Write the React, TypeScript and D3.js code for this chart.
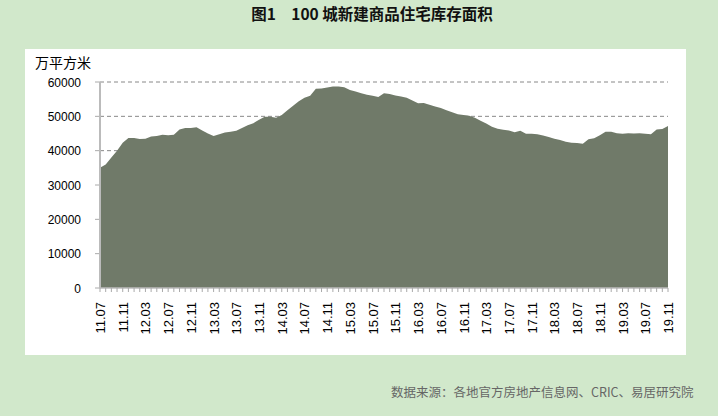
import React from "react";
import * as d3 from "d3";

const startYear = 2011;
const startMonth = 7;
const inventory: number[] = [
  35000, 36000, 38000, 40000, 42300, 43700, 43700, 43400, 43500, 44100,
  44300, 44600, 44500, 44600, 46200, 46600, 46600, 46800, 45900, 45000,
  44300, 44800, 45300, 45500, 45800, 46600, 47400, 48000, 49000, 49900,
  49900, 49600, 50400, 51800, 53100, 54400, 55400, 56000, 58000, 58100,
  58400, 58700, 58700, 58500, 57700, 57200, 56700, 56300, 56000, 55600,
  56700, 56500, 56100, 55800, 55400, 54600, 53800, 53900, 53400, 52900,
  52400, 51800, 51200, 50600, 50400, 50200, 49600, 48700, 47900, 47000,
  46400, 46100, 45900, 45400, 45800, 44900, 44900, 44800, 44400, 44000,
  43500, 43100, 42600, 42300, 42200, 42000, 43300, 43600, 44500, 45500,
  45500, 45100, 44900, 45100, 45000, 45100, 44900, 44800, 46200, 46300,
  47200,
];
const months: string[] = inventory.map((_, i) => {
  const t = startMonth - 1 + i;
  const y = startYear + Math.floor(t / 12);
  const m = (t % 12) + 1;
  return `${String(y % 100).padStart(2, "0")}.${String(m).padStart(2, "0")}`;
});
const yTicks: number[] = [0, 10000, 20000, 30000, 40000, 50000, 60000];
const labelStep = 4;

const title = "图1　100 城新建商品住宅库存面积";
const unit = "万平方米";
const source = "数据来源：各地官方房地产信息网、CRIC、易居研究院";

export default function App() {
  const W = 718, H = 416;
  const x0 = 100, x1 = 668, yTop = 82, yBot = 288;
  const x = d3.scaleLinear().domain([0, inventory.length - 1]).range([x0, x1]);
  const y = d3.scaleLinear().domain([0, 60000]).range([yBot, yTop]);
  const area = d3
    .area<number>()
    .x((_, i) => x(i))
    .y0(y(0))
    .y1((d) => y(d));
  const font = "'Liberation Sans', Arial, sans-serif";
  return (
    <svg
      width={W}
      height={H}
      style={{ position: "absolute", left: 0, top: 0 }}
    >
      <rect x={0} y={0} width={W} height={H} fill="#d1e8cb" />
      <rect x={25} y={49} width={661} height={306} fill="#ffffff" />
      <text
        x={372}
        y={20}
        textAnchor="middle"
        fontFamily="'Noto Sans CJK SC', serif"
        fontWeight="bold"
        fontSize={15.5}
        fill="#111"
      >
        {title}
      </text>
      <text
        x={35}
        y={68}
        fontFamily="'Noto Sans CJK SC', sans-serif"
        fontSize={14}
        fill="#000"
      >
        {unit}
      </text>
      {yTicks.map((t) => (
        <g key={t}>
          {t > 0 && (
            <line
              x1={x0}
              x2={x1}
              y1={y(t)}
              y2={y(t)}
              stroke="#888"
              strokeWidth={1}
              strokeDasharray="4,3"
            />
          )}
          <line x1={95} x2={x0} y1={y(t)} y2={y(t)} stroke="#aaa" />
          <text
            x={81}
            y={y(t) + 4.5}
            textAnchor="end"
            fontFamily={font}
            fontSize={12}
            fill="#000"
          >
            {t}
          </text>
        </g>
      ))}
      <path d={area(inventory) || ""} fill="#707a69" />
      <line x1={x0} x2={x0} y1={yTop} y2={yBot} stroke="#bbb" strokeWidth={2} />
      <line x1={x0} x2={x1} y1={yBot} y2={yBot} stroke="#bbb" strokeWidth={1.5} />
      {months.map((m, i) => (
        <g key={m}>
          <line
            x1={x(i)}
            x2={x(i)}
            y1={yBot}
            y2={yBot + 4}
            stroke="#aaa"
          />
          {i % labelStep === 0 && (
            <text
              transform={`translate(${x(i) + 5},${302}) rotate(-90)`}
              textAnchor="end"
              fontFamily={font}
              fontSize={13}
              fill="#000"
            >
              {m}
            </text>
          )}
        </g>
      ))}
      <text
        x={391}
        y={397}
        fontFamily="'Noto Sans CJK SC', sans-serif"
        fontSize={12.5}
        fill="#666"
      >
        {source}
      </text>
    </svg>
  );
}
